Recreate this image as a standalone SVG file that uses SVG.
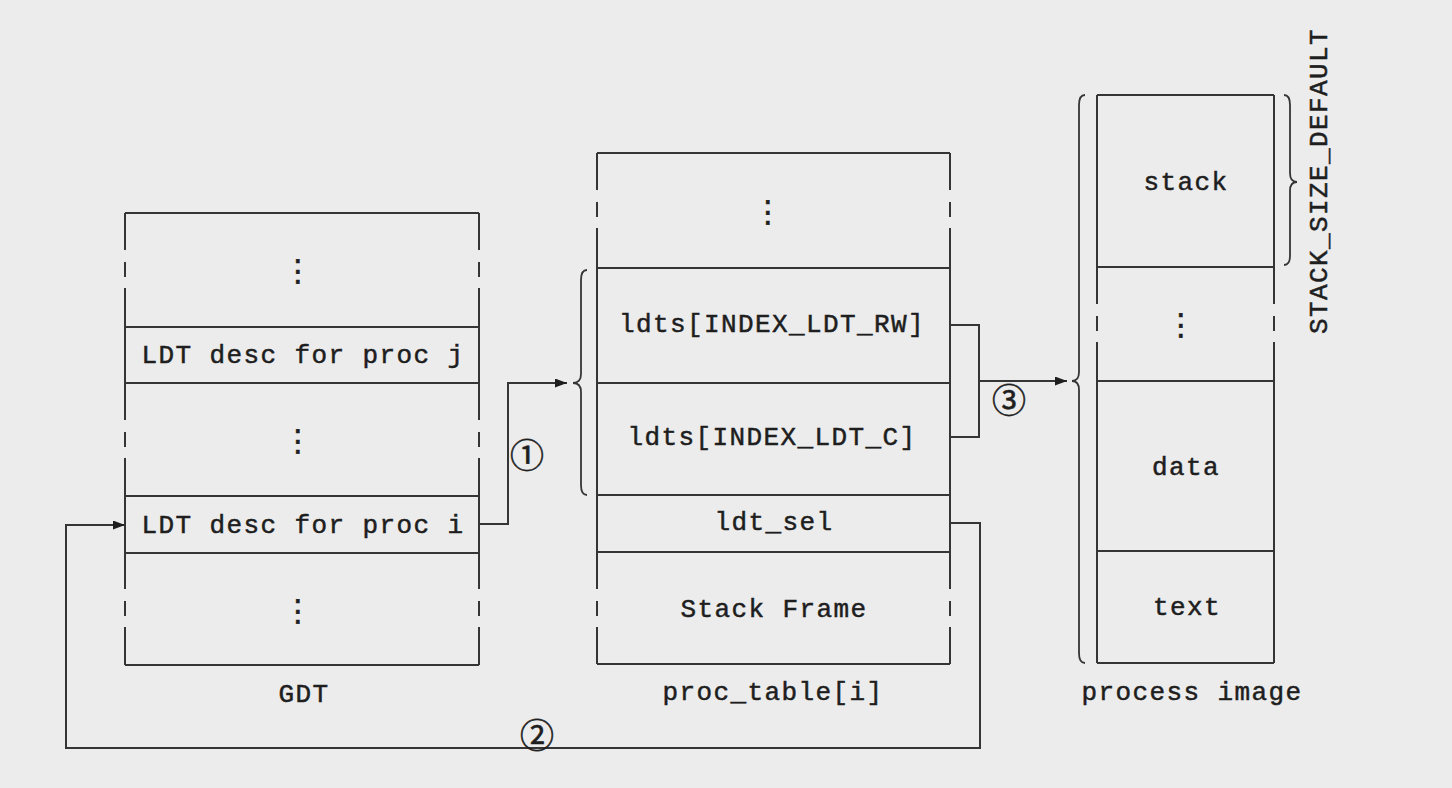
<svg xmlns="http://www.w3.org/2000/svg" width="1452" height="788" viewBox="0 0 1452 788">
<defs>
<style>
.ln{stroke:#353535;stroke-width:2;fill:none}
.br{stroke:#353535;stroke-width:1.8;fill:none}
.t{font-family:"Liberation Mono","Courier New",monospace;font-size:26px;letter-spacing:1.4px;fill:#1e1e1e;stroke:#1e1e1e;stroke-width:0.5px;text-anchor:middle}
.d{font-family:"DejaVu Sans",sans-serif;font-size:30px;fill:#1e1e1e;stroke:#1e1e1e;stroke-width:0.6px;text-anchor:middle}
.c{font-family:"Noto Sans CJK SC","DejaVu Sans",sans-serif;font-size:34px;fill:#1e1e1e;stroke:#1e1e1e;stroke-width:0.6px;text-anchor:middle}
</style>
<marker id="ah" markerUnits="userSpaceOnUse" markerWidth="12" markerHeight="9" refX="12" refY="4.5" orient="auto">
<path d="M0,0 L12,4.5 L0,9 z" fill="#1e1e1e"/>
</marker>
</defs>
<rect x="0" y="0" width="1452" height="788" fill="#ececec"/>

<g id="gdt">
<path class="ln" d="M125,213 H479 M125,327 H479 M125,383 H479 M125,496 H479 M125,553 H479 M125,665 H479"/>
<path class="ln" d="M125,213 V250 M125,262 V277 M125,288 V420 M125,432 V447 M125,458 V589 M125,601 V616 M125,627 V665"/>
<path class="ln" d="M479,213 V250 M479,262 V277 M479,288 V420 M479,432 V447 M479,458 V589 M479,601 V616 M479,627 V665"/>
<text class="d" x="298" y="281">⋮</text>
<text class="t" x="303" y="363">LDT desc for proc j</text>
<text class="d" x="298" y="451">⋮</text>
<text class="t" x="303" y="533">LDT desc for proc i</text>
<text class="d" x="298" y="621">⋮</text>
<text class="t" x="304" y="702">GDT</text>
</g>

<g id="proc_table">
<path class="ln" d="M597,153 H950 M597,268 H950 M597,383 H950 M597,495 H950 M597,552 H950 M597,664 H950"/>
<path class="ln" d="M597,153 V190 M597,202 V217 M597,228 V589 M597,601 V616 M597,627 V664"/>
<path class="ln" d="M950,153 V190 M950,202 V217 M950,228 V589 M950,601 V616 M950,627 V664"/>
<text class="d" x="768" y="222">⋮</text>
<text class="t" x="772" y="332">ldts[INDEX_LDT_RW]</text>
<text class="t" x="772" y="445">ldts[INDEX_LDT_C]</text>
<text class="t" x="774" y="530">ldt_sel</text>
<text class="t" x="774" y="617">Stack Frame</text>
<text class="t" x="773" y="700">proc_table[i]</text>
</g>

<g id="process_image">
<path class="ln" d="M1097,95 H1274 M1097,267 H1274 M1097,381 H1274 M1097,551 H1274 M1097,663 H1274"/>
<path class="ln" d="M1097,95 V304 M1097,316 V331 M1097,342 V663"/>
<path class="ln" d="M1274,95 V304 M1274,316 V331 M1274,342 V663"/>
<text class="t" x="1186" y="190">stack</text>
<text class="d" x="1181" y="335">⋮</text>
<text class="t" x="1186" y="475">data</text>
<text class="t" x="1187" y="615">text</text>
<text class="t" x="1192" y="700">process image</text>
</g>

<g id="braces">
<path class="br" d="M587,270 Q581,270 581,280 L581,374 Q581,383 573,383 Q581,383 581,392 L581,485 Q581,495 587,495"/>
<path class="br" d="M1085,95 Q1079,95 1079,105 L1079,372 Q1079,381 1072,381 Q1079,381 1079,390 L1079,653 Q1079,663 1085,663"/>
<path class="br" d="M1284,95 Q1290,95 1290,105 L1290,173 Q1290,182 1297,182 Q1290,182 1290,191 L1290,256 Q1290,265 1284,265"/>
<text class="t" x="1327" y="181" transform="rotate(-90 1327 181)">STACK_SIZE_DEFAULT</text>
</g>

<g id="connectors">
<path class="ln" d="M480,524 H508 V383 H567" marker-end="url(#ah)"/>
<path class="ln" d="M951,523 H980 V748 H66 V525 H125" marker-end="url(#ah)"/>
<path class="ln" d="M950,325 H979 V437 H950"/>
<path class="ln" d="M979,381 H1067" marker-end="url(#ah)"/>
<text class="c" x="527" y="468">①</text>
<text class="c" x="537" y="748">②</text>
<text class="c" x="1009" y="413">③</text>
</g>
</svg>
